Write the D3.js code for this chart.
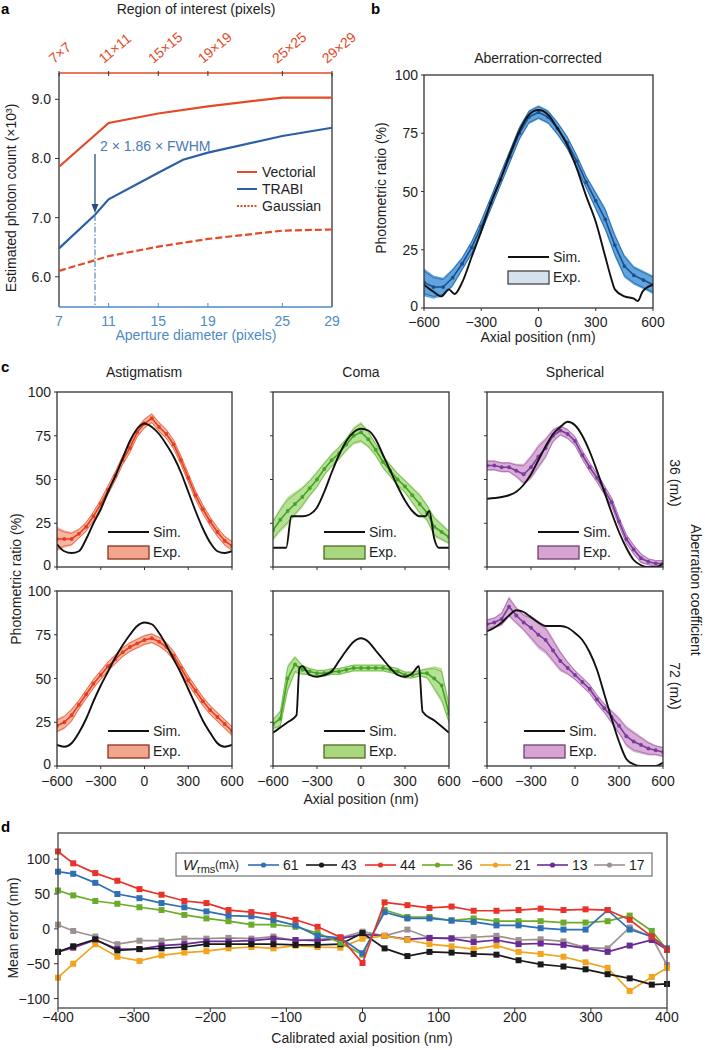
<!DOCTYPE html>
<html><head><meta charset="utf-8">
<script src="https://cdn.jsdelivr.net/npm/d3@7"></script>
<style>body{margin:0;background:#fff} text{font-family:"Liberation Sans",Arial,sans-serif}</style>
</head><body><svg id="c" width="717" height="1050"></svg>
<script>
// ---------------- DATA ----------------
// Panel a
const apertureTicks = [7, 11, 15, 19, 25, 29];
const roiLabels = ["7×7", "11×11", "15×15", "19×19", "25×25", "29×29"];
const photonTicks = [6, 7, 8, 9];
const vectorial = [[7, 7.86], [11, 8.6], [15, 8.76], [19, 8.88], [25, 9.03], [29, 9.03]];
const trabi = [[7, 6.48], [9.9, 7.05], [11, 7.31], [15, 7.76], [17, 7.98], [19, 8.1], [25, 8.38], [29, 8.52]];
const gaussian = [[7, 6.1], [11, 6.35], [15, 6.51], [19, 6.64], [25, 6.78], [29, 6.8]];
const fwhmAperture = 9.9;

// Axial positions for experimental curves (nm)
const axialX = [-600, -550, -500, -450, -400, -350, -300, -250, -200, -150, -100, -50, 0, 50, 100, 150, 200, 250, 300, 350, 400, 450, 500, 550, 600];
const axialTicks = [-600, -300, 0, 300, 600];
const ratioTicks = [0, 25, 50, 75, 100];

// Panel b
const simB = [[-600, 10], [-550, 7], [-510, 5], [-470, 8], [-440, 6], [-400, 11], [-350, 22], [-300, 33], [-250, 45], [-200, 55], [-150, 66], [-100, 76], [-50, 83], [0, 85], [50, 83], [100, 77], [150, 70], [200, 60], [250, 48], [300, 37], [350, 22], [380, 13], [400, 8], [450, 5], [500, 4], [520, 3], [545, 7], [600, 10]];
const expB = [11, 9, 9, 13, 19, 26, 35, 45, 55, 65, 75, 82, 84, 82, 77, 71, 63, 54, 46, 38, 27, 18, 14, 12, 10];
const spreadB = [6, 5, 4, 4, 3, 3, 3, 3, 3, 3, 3, 3, 3, 3, 3, 3, 3, 3, 4, 5, 5, 5, 4, 4, 4];

// Panel c – Astigmatism
const simAst36 = [[-600, 13], [-550, 9], [-500, 8], [-450, 9], [-400, 16], [-350, 25], [-300, 33], [-250, 43], [-200, 52], [-150, 62], [-100, 72], [-50, 79], [0, 82], [50, 80], [100, 76], [150, 70], [200, 63], [250, 54], [300, 43], [350, 32], [400, 22], [450, 14], [500, 9], [550, 8], [600, 9]];
const expAst36 = [16, 16, 16, 19, 23, 29, 36, 44, 52, 61, 68, 77, 82, 85, 80, 76, 70, 61, 51, 41, 33, 26, 20, 15, 12];
const spreadAst36 = [7, 5, 4, 3, 3, 3, 3, 3, 3, 3, 3, 3, 3, 3, 3, 3, 3, 3, 3, 3, 3, 3, 3, 3, 3];
const simAst72 = [[-600, 12], [-550, 11], [-500, 13], [-450, 19], [-400, 27], [-350, 37], [-300, 46], [-250, 54], [-200, 62], [-150, 69], [-100, 75], [-50, 80], [0, 82], [50, 81], [100, 76], [150, 69], [200, 61], [250, 53], [300, 44], [350, 35], [400, 26], [450, 19], [500, 13], [550, 11], [600, 12]];
const expAst72 = [23, 25, 29, 35, 41, 47, 52, 57, 61, 65, 68, 70, 72, 73, 71, 68, 63, 56, 49, 43, 37, 32, 28, 24, 20];
const spreadAst72 = [4, 4, 4, 3, 3, 3, 3, 3, 3, 3, 3, 3, 3, 3, 3, 3, 3, 3, 3, 3, 3, 3, 3, 3, 3];

// Panel c – Coma
const simComa36 = [[-600, 11], [-510, 11], [-475, 29], [-440, 29], [-400, 29], [-350, 30], [-300, 34], [-250, 43], [-200, 54], [-150, 64], [-100, 72], [-50, 77], [0, 79], [50, 78], [100, 73], [150, 64], [200, 55], [250, 46], [300, 38], [350, 32], [400, 29], [440, 29], [465, 32], [500, 16], [530, 11], [600, 11]];
const expComa36 = [21, 27, 32, 36, 40, 45, 50, 56, 61, 65, 70, 75, 77, 73, 67, 60, 55, 50, 46, 41, 36, 31, 23, 20, 17];
const spreadComa36 = [6, 7, 8, 7, 6, 5, 5, 4, 4, 4, 4, 5, 6, 5, 4, 4, 4, 4, 4, 5, 6, 5, 6, 5, 4];
const simComa72 = [[-600, 19], [-550, 22], [-500, 25], [-440, 29], [-420, 56], [-400, 57], [-350, 52], [-300, 51], [-250, 52], [-200, 54], [-150, 60], [-100, 66], [-50, 71], [0, 73], [50, 71], [100, 66], [150, 61], [200, 56], [250, 52], [300, 51], [350, 53], [395, 57], [420, 31], [500, 26], [600, 19]];
const expComa72 = [24, 27, 50, 58, 55, 54, 53, 53, 54, 54, 55, 56, 56, 56, 56, 56, 55, 54, 52, 52, 53, 53, 50, 46, 30];
const spreadComa72 = [3, 5, 8, 5, 3, 2, 2, 2, 2, 2, 2, 2, 2, 2, 2, 2, 2, 2, 2, 2, 2, 3, 7, 10, 6];

// Panel c – Spherical
const simSph36 = [[-600, 39], [-500, 40], [-450, 41], [-400, 43], [-350, 47], [-300, 53], [-250, 61], [-200, 69], [-150, 76], [-100, 80], [-50, 83], [0, 81], [50, 75], [100, 66], [150, 55], [200, 43], [250, 31], [300, 20], [350, 11], [400, 4], [450, 1], [500, 0], [550, 0], [600, 2]];
const expSph36 = [58, 58, 57, 57, 55, 53, 57, 63, 68, 75, 78, 76, 72, 64, 57, 51, 44, 37, 26, 16, 10, 5, 3, 2, 2];
const spreadSph36 = [3, 3, 3, 3, 4, 6, 7, 7, 6, 4, 3, 3, 3, 3, 3, 3, 3, 3, 3, 3, 3, 3, 2, 2, 2];
const simSph72 = [[-600, 77], [-550, 79], [-500, 82], [-450, 86], [-400, 89], [-350, 88], [-300, 85], [-250, 82], [-200, 80], [-150, 80], [-100, 80], [-50, 79], [0, 76], [50, 72], [100, 65], [150, 55], [200, 41], [250, 27], [300, 14], [350, 4], [400, 1], [450, 0], [500, 0], [550, 0], [600, 2]];
const expSph72 = [81, 82, 84, 91, 86, 82, 79, 75, 72, 66, 60, 56, 52, 48, 44, 38, 33, 28, 23, 17, 14, 12, 10, 9, 8];
const spreadSph72 = [3, 3, 4, 6, 5, 5, 7, 8, 8, 7, 6, 4, 3, 3, 3, 3, 3, 4, 5, 6, 6, 5, 4, 3, 3];

// Panel d
const dX = [-400, -380, -351, -322, -293, -264, -234, -205, -176, -146, -117, -88, -59, -29, 0, 29, 59, 88, 117, 146, 176, 205, 234, 264, 293, 322, 351, 380, 400];
const dXTicks = [-400, -300, -200, -100, 0, 100, 200, 300, 400];
const dYTicks = [-100, -50, 0, 50, 100];
const wrmsLabels = ["61", "43", "44", "36", "21", "13", "17"];
const err61 = [82, 79, 66, 50, 44, 37, 31, 25, 19, 18, 13, 5, -10, -13, -35, 24, 15, 15, 12, 10, 5, 5, 1, -1, -1, 27, -1, -11, -28];
const err43 = [-33, -25, -15, -31, -29, -28, -26, -22, -22, -22, -22, -23, -23, -22, -6, -28, -39, -33, -34, -36, -37, -45, -51, -54, -58, -65, -71, -80, -79];
const err44 = [111, 94, 80, 69, 57, 49, 40, 37, 27, 24, 20, 13, 3, -12, -49, 38, 34, 30, 32, 26, 26, 27, 29, 27, 28, 27, 13, -11, -30];
const err36 = [55, 48, 40, 36, 31, 27, 20, 15, 11, 6, 6, 3, -6, -20, -37, 27, 17, 17, 12, 15, 11, 11, 11, 9, 9, 11, 19, -3, -30];
const err21 = [-70, -50, -22, -40, -46, -38, -34, -32, -28, -26, -28, -24, -26, -27, -14, -10, -16, -22, -25, -29, -24, -33, -36, -40, -48, -56, -89, -69, -56];
const err13 = [-33, -27, -16, -29, -29, -24, -22, -18, -18, -17, -14, -16, -17, -14, -8, -10, -15, -13, -14, -19, -16, -22, -21, -23, -28, -33, -24, -16, -30];
const err17 = [6, -3, -11, -22, -17, -17, -14, -14, -13, -14, -11, -17, -15, -13, -4, -10, -1, -13, -13, -12, -10, -16, -15, -18, -27, -28, 2, -12, -52];

// ---------------- DRAWING ----------------
const svg = d3.select("#c");
const INK = "#1e1e1e";
const FS = 14;

function addText(g, x, y, s, o = {}) {
  const t = g.append("text").attr("x", x).attr("y", y).text(s)
    .attr("font-size", o.size || FS).attr("fill", o.fill || INK)
    .attr("text-anchor", o.anchor || "start");
  if (o.weight) t.attr("font-weight", o.weight);
  if (o.style) t.attr("font-style", o.style);
  if (o.rotate != null) t.attr("transform", `rotate(${o.rotate},${x},${y})`);
  return t;
}
const fmtNum = v => d3.format("")(v).replace("-", "−");

// panel letters
addText(svg, 1, 14, "a", {weight: "bold", size: 15, fill: "#000"});
addText(svg, 371, 14, "b", {weight: "bold", size: 15, fill: "#000"});
addText(svg, 1, 372, "c", {weight: "bold", size: 15, fill: "#000"});
addText(svg, 1, 832, "d", {weight: "bold", size: 15, fill: "#000"});

// ======== Panel a ========
(function () {
  const g = svg.append("g");
  const RED = "#e34a26", BLUE = "#2c5fa6", LBLUE = "#4f8ac4";
  const x = d3.scaleLinear().domain([7, 29]).range([59, 332]);
  const y = d3.scaleLinear().domain([5.49, 9.445]).range([307, 73]);
  g.append("line").attr("x1", 59).attr("x2", 59).attr("y1", 73).attr("y2", 307).attr("stroke", "#333").attr("stroke-width", 1.3);
  g.append("line").attr("x1", 332).attr("x2", 332).attr("y1", 73).attr("y2", 307).attr("stroke", "#333").attr("stroke-width", 1.3);
  g.append("line").attr("x1", 59).attr("x2", 332).attr("y1", 73).attr("y2", 73).attr("stroke", RED).attr("stroke-width", 1.7);
  g.append("line").attr("x1", 59).attr("x2", 332).attr("y1", 307).attr("y2", 307).attr("stroke", LBLUE).attr("stroke-width", 1.7);
  photonTicks.forEach(v => {
    g.append("line").attr("x1", 55).attr("x2", 59).attr("y1", y(v)).attr("y2", y(v)).attr("stroke", "#333");
    addText(g, 51, y(v) + 5, d3.format(".1f")(v), {anchor: "end"});
  });
  apertureTicks.forEach((v, i) => {
    g.append("line").attr("x1", x(v)).attr("x2", x(v)).attr("y1", 71).attr("y2", 76).attr("stroke", "#333");
    g.append("line").attr("x1", x(v)).attr("x2", x(v)).attr("y1", 307).attr("y2", 303).attr("stroke", LBLUE);
    addText(g, x(v) - 5, 64, roiLabels[i], {fill: RED, rotate: -40});
    addText(g, x(v), 326, String(v), {fill: LBLUE, anchor: "middle"});
  });
  addText(g, 196, 14, "Region of interest (pixels)", {anchor: "middle"});
  addText(g, 196, 340, "Aperture diameter (pixels)", {anchor: "middle", fill: LBLUE});
  addText(g, 16, 198, "Estimated photon count (×10³)", {anchor: "middle", rotate: -90});

  const line = d3.line().x(d => x(d[0])).y(d => y(d[1]));
  g.append("path").attr("d", line(gaussian)).attr("fill", "none").attr("stroke", RED).attr("stroke-width", 2.2).attr("stroke-dasharray", "7,3");
  g.append("path").attr("d", line(vectorial)).attr("fill", "none").attr("stroke", RED).attr("stroke-width", 2.2);
  g.append("path").attr("d", line(trabi)).attr("fill", "none").attr("stroke", BLUE).attr("stroke-width", 2.2);

  const fx = x(fwhmAperture);
  g.append("line").attr("x1", fx).attr("x2", fx).attr("y1", 215).attr("y2", 307).attr("stroke", "#5a88b6").attr("stroke-width", 1.2).attr("stroke-dasharray", "6,2,1.5,2");
  g.append("line").attr("x1", fx).attr("x2", fx).attr("y1", 154).attr("y2", 206).attr("stroke", "#2a4d7c").attr("stroke-width", 1.3);
  g.append("path").attr("d", `M${fx - 3.5},204 L${fx + 3.5},204 L${fx},213 Z`).attr("fill", "#2a4d7c");
  addText(g, 100, 151, "2 × 1.86 × FWHM", {fill: "#4a7ab8"});

  const leg = [["Vectorial", RED, null, 172], ["TRABI", BLUE, null, 189], ["Gaussian", RED, "2,1.5", 206]];
  leg.forEach(([lab, c, dash, ly]) => {
    const l = g.append("line").attr("x1", 237).attr("x2", 257).attr("y1", ly).attr("y2", ly).attr("stroke", c).attr("stroke-width", 2);
    if (dash) l.attr("stroke-dasharray", dash);
    addText(g, 262, ly + 5, lab);
  });
})();

// ======== generic profile subplot (panels b, c) ========
let clipId = 0;
function profile(box, sim, mean, spread, st, opt) {
  const g = svg.append("g");
  const x = d3.scaleLinear().domain([-600, 600]).range([box.l, box.l + box.w]);
  const y = d3.scaleLinear().domain([0, 100]).range([box.t + box.h, box.t]);
  const id = "clip" + (clipId++);
  g.append("clipPath").attr("id", id).append("rect").attr("x", box.l).attr("y", box.t - 2).attr("width", box.w).attr("height", box.h + 2);
  const pg = g.append("g").attr("clip-path", `url(#${id})`);
  const pts = axialX.map((v, i) => ({x: v, m: mean[i], s: spread[i]}));
  const area = d3.area().x(d => x(d.x)).y0(d => y(d.m - d.s)).y1(d => y(d.m + d.s));
  pg.append("path").attr("d", area(pts)).attr("fill", st.band).attr("fill-opacity", st.bandOp);
  const lo = d3.line().x(d => x(d.x)).y(d => y(d.m - d.s * 0.8));
  const hi = d3.line().x(d => x(d.x)).y(d => y(d.m + d.s * 0.8));
  pg.append("path").attr("d", lo(pts)).attr("fill", "none").attr("stroke", st.edge).attr("stroke-width", 0.9).attr("stroke-opacity", 0.8);
  pg.append("path").attr("d", hi(pts)).attr("fill", "none").attr("stroke", st.edge).attr("stroke-width", 0.9).attr("stroke-opacity", 0.8);
  const ml = d3.line().x(d => x(d.x)).y(d => y(d.m));
  pg.append("path").attr("d", ml(pts)).attr("fill", "none").attr("stroke", st.line).attr("stroke-width", 1.6);
  pg.selectAll("circle.m").data(pts).join("circle").attr("cx", d => x(d.x)).attr("cy", d => y(d.m)).attr("r", 1.9).attr("fill", st.line);
  const sl = d3.line().x(d => x(d[0])).y(d => y(d[1])).curve(d3.curveMonotoneX);
  pg.append("path").attr("d", sl(sim)).attr("fill", "none").attr("stroke", "#111").attr("stroke-width", 1.9);
  g.append("rect").attr("x", box.l).attr("y", box.t).attr("width", box.w).attr("height", box.h).attr("fill", "none").attr("stroke", "#333").attr("stroke-width", 1.3);
  ratioTicks.forEach(v => {
    g.append("line").attr("x1", box.l - 3).attr("x2", box.l).attr("y1", y(v)).attr("y2", y(v)).attr("stroke", "#333");
    if (opt.yLabels) addText(g, box.l - 6, y(v) + (v === 0 ? 3 : 5), String(v), {anchor: "end"});
  });
  axialTicks.forEach(v => {
    g.append("line").attr("x1", x(v)).attr("x2", x(v)).attr("y1", box.t + box.h).attr("y2", box.t + box.h + 3).attr("stroke", "#333");
    if (opt.xLabels) addText(g, x(v), opt.xLabelY, fmtNum(v), {anchor: "middle"});
  });
  const lx = box.l + opt.legDx, ly = box.t + opt.legDy;
  g.append("line").attr("x1", lx).attr("x2", lx + 41).attr("y1", ly).attr("y2", ly).attr("stroke", "#111").attr("stroke-width", 1.9);
  addText(g, lx + 45, ly + 5, "Sim.");
  g.append("rect").attr("x", lx).attr("y", ly + 14).attr("width", 41).attr("height", 13).attr("fill", st.swFill).attr("stroke", st.swStroke).attr("stroke-width", 1.3);
  addText(g, lx + 45, ly + 25, "Exp.");
}

// ======== Panel b ========
const stB = {band: "#3b8fd6", bandOp: 0.8, edge: "#1d5796", line: "#1b4f8e", swFill: "#d5e1ec", swStroke: "#444"};
profile({l: 424, t: 75, w: 229, h: 233}, simB, expB, spreadB, stB, {yLabels: true, xLabels: true, xLabelY: 327, legDx: 84, legDy: 182});
addText(svg, 538, 63, "Aberration-corrected", {anchor: "middle"});
addText(svg, 538, 342, "Axial position (nm)", {anchor: "middle"});
addText(svg, 386, 188, "Photometric ratio (%)", {anchor: "middle", rotate: -90});

// ======== Panel c ========
const stAst = {band: "#f07a5a", bandOp: 0.55, edge: "#e0502e", line: "#e63d1d", swFill: "#f2a68c", swStroke: "#8a3020"};
const stComa = {band: "#8fcf5f", bandOp: 0.65, edge: "#5cae34", line: "#44a423", swFill: "#a9d77d", swStroke: "#4d6b25"};
const stSph = {band: "#c98ac5", bandOp: 0.7, edge: "#9a5aa5", line: "#7a3b9e", swFill: "#d6a3d2", swStroke: "#6f3f70"};
const cols = [57, 273, 487], colW = [175, 176, 176], rows = [392, 591], rowH = 175;
const cData = [
  [[simAst36, expAst36, spreadAst36, stAst], [simComa36, expComa36, spreadComa36, stComa], [simSph36, expSph36, spreadSph36, stSph]],
  [[simAst72, expAst72, spreadAst72, stAst], [simComa72, expComa72, spreadComa72, stComa], [simSph72, expSph72, spreadSph72, stSph]]
];
cData.forEach((row, r) => row.forEach((cell, c) => {
  profile({l: cols[c], t: rows[r], w: colW[c], h: rowH}, cell[0], cell[1], cell[2], cell[3],
    {yLabels: c === 0, xLabels: r === 1, xLabelY: 786, legDx: (r === 1 && c === 2) ? 37 : 51, legDy: 140});
}));
addText(svg, 144, 377, "Astigmatism", {anchor: "middle"});
addText(svg, 361, 377, "Coma", {anchor: "middle"});
addText(svg, 575, 377, "Spherical", {anchor: "middle"});
addText(svg, 361, 804, "Axial position (nm)", {anchor: "middle"});
addText(svg, 21, 579, "Photometric ratio (%)", {anchor: "middle", rotate: -90});
addText(svg, 670, 483, "36 (mλ)", {anchor: "middle", rotate: 90});
addText(svg, 670, 686, "72 (mλ)", {anchor: "middle", rotate: 90});
addText(svg, 691, 590, "Aberration coefficient", {anchor: "middle", rotate: 90});

// ======== Panel d ========
(function () {
  const g = svg.append("g");
  const x = d3.scaleLinear().domain([-400, 400]).range([58, 667]);
  const y = d3.scaleLinear().domain([-113.5, 137.5]).range([1008, 833]);
  const series = [
    [err17, "#9b9290"], [err13, "#6a2a96"], [err21, "#f2a41e"], [err43, "#1a1a1a"],
    [err36, "#6cab2a"], [err61, "#2f6fb4"], [err44, "#e8322a"]
  ];
  const line = d3.line().x((d, i) => x(dX[i])).y(d => y(d));
  series.forEach(([vals, c]) => {
    g.append("path").attr("d", line(vals)).attr("fill", "none").attr("stroke", c).attr("stroke-width", 1.7);
    g.selectAll(null).data(vals).join("rect")
      .attr("x", (d, i) => x(dX[i]) - 3).attr("y", d => y(d) - 3).attr("width", 6).attr("height", 6).attr("fill", c);
  });
  g.append("rect").attr("x", 58).attr("y", 833).attr("width", 609).attr("height", 175).attr("fill", "none").attr("stroke", "#444").attr("stroke-width", 1.3);
  dYTicks.forEach(v => {
    g.append("line").attr("x1", 54).attr("x2", 58).attr("y1", y(v)).attr("y2", y(v)).attr("stroke", "#333");
    addText(g, 50, y(v) + 5, fmtNum(v), {anchor: "end"});
  });
  dXTicks.forEach(v => {
    g.append("line").attr("x1", x(v)).attr("x2", x(v)).attr("y1", 1008).attr("y2", 1012).attr("stroke", "#333");
    addText(g, x(v), 1022, fmtNum(v), {anchor: "middle"});
  });
  addText(g, 362, 1043, "Calibrated axial position (nm)", {anchor: "middle"});
  addText(g, 18, 928, "Mean error (nm)", {anchor: "middle", rotate: -90});

  g.append("rect").attr("x", 176).attr("y", 853).attr("width", 476).attr("height", 23).attr("fill", "#fff").attr("stroke", "#555").attr("stroke-width", 1);
  addText(g, 183, 870, "W", {style: "italic", size: 15});
  addText(g, 197, 873, "rms", {size: 11});
  addText(g, 215, 869, "(mλ)", {size: 12});
  const legColors = ["#2f6fb4", "#1a1a1a", "#e8322a", "#6cab2a", "#f2a41e", "#6a2a96", "#9b9290"];
  const starts = [248, 306, 365, 422, 480, 537, 594];
  wrmsLabels.forEach((lab, i) => {
    const sx = starts[i];
    g.append("line").attr("x1", sx).attr("x2", sx + 31).attr("y1", 865).attr("y2", 865).attr("stroke", legColors[i]).attr("stroke-width", 1.6);
    g.append("circle").attr("cx", sx + 15.5).attr("cy", 865).attr("r", 2.6).attr("fill", legColors[i]);
    addText(g, sx + 35, 870, lab, {size: 14});
  });
})();
</script></body></html>
